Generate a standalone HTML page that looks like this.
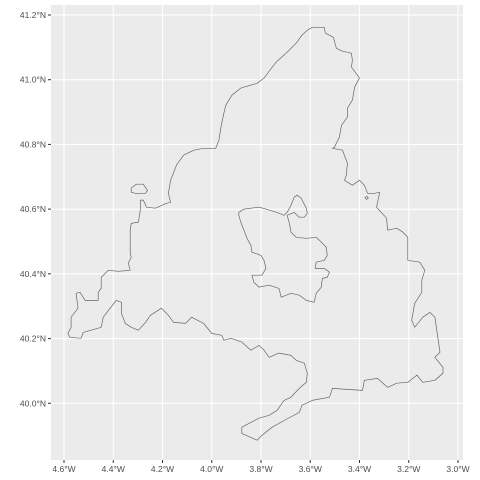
<!DOCTYPE html>
<html><head><meta charset="utf-8"><style>
html,body{margin:0;padding:0;background:#fff}
svg{display:block;font-family:"Liberation Sans",sans-serif}
</style></head><body>
<svg id="chart" width="480" height="480"></svg>
<script>
const xTicks=[-4.6,-4.4,-4.2,-4.0,-3.8,-3.6,-3.4,-3.2,-3.0];
const xTickLabels=["4.6°W","4.4°W","4.2°W","4.0°W","3.8°W","3.6°W","3.4°W","3.2°W","3.0°W"];
const yTicks=[40.0,40.2,40.4,40.6,40.8,41.0,41.2];
const yTickLabels=["40.0°N","40.2°N","40.4°N","40.6°N","40.8°N","41.0°N","41.2°N"];
const regionLon=[-3.592,-3.543,-3.539,-3.506,-3.494,-3.469,-3.433,-3.429,-3.433,-3.400,-3.420,-3.429,-3.449,-3.449,-3.473,-3.482,-3.502,-3.510,-3.469,-3.449,-3.453,-3.461,-3.429,-3.400,-3.380,-3.367,-3.339,-3.318,-3.331,-3.290,-3.286,-3.249,-3.224,-3.204,-3.204,-3.155,-3.135,-3.147,-3.147,-3.176,-3.188,-3.176,-3.143,-3.114,-3.094,-3.082,-3.073,-3.094,-3.061,-3.061,-3.094,-3.143,-3.167,-3.204,-3.249,-3.286,-3.327,-3.380,-3.388,-3.510,-3.522,-3.592,-3.633,-3.645,-3.706,-3.755,-3.796,-3.816,-3.878,-3.878,-3.841,-3.808,-3.767,-3.735,-3.706,-3.678,-3.645,-3.616,-3.612,-3.624,-3.657,-3.678,-3.727,-3.767,-3.788,-3.808,-3.841,-3.878,-3.922,-3.951,-3.959,-4.000,-4.033,-4.082,-4.106,-4.155,-4.176,-4.204,-4.249,-4.269,-4.298,-4.327,-4.351,-4.367,-4.367,-4.388,-4.441,-4.449,-4.522,-4.531,-4.576,-4.584,-4.571,-4.571,-4.543,-4.551,-4.535,-4.514,-4.461,-4.461,-4.449,-4.449,-4.420,-4.380,-4.331,-4.339,-4.327,-4.331,-4.331,-4.327,-4.298,-4.290,-4.290,-4.278,-4.265,-4.229,-4.184,-4.167,-4.176,-4.167,-4.143,-4.114,-4.073,-4.033,-3.984,-3.971,-3.963,-3.951,-3.943,-3.918,-3.882,-3.816,-3.788,-3.739,-3.694,-3.657,-3.633,-3.612];
const regionLat=[41.162,41.162,41.144,41.131,41.097,41.088,41.082,41.060,41.039,41.005,40.977,40.937,40.912,40.884,40.859,40.822,40.791,40.788,40.782,40.742,40.705,40.689,40.674,40.689,40.674,40.649,40.649,40.652,40.606,40.572,40.535,40.541,40.529,40.513,40.442,40.436,40.411,40.380,40.343,40.309,40.257,40.235,40.266,40.281,40.266,40.204,40.158,40.142,40.111,40.093,40.071,40.065,40.087,40.065,40.062,40.049,40.077,40.071,40.040,40.046,40.019,40.009,39.994,39.972,39.947,39.926,39.901,39.886,39.907,39.926,39.941,39.954,39.963,39.978,40.009,40.019,40.046,40.065,40.093,40.124,40.133,40.148,40.155,40.142,40.164,40.179,40.164,40.189,40.201,40.195,40.210,40.216,40.247,40.266,40.247,40.250,40.272,40.294,40.272,40.250,40.226,40.235,40.247,40.278,40.312,40.318,40.266,40.235,40.219,40.201,40.204,40.216,40.235,40.266,40.294,40.340,40.343,40.318,40.318,40.343,40.355,40.389,40.411,40.408,40.411,40.433,40.451,40.467,40.535,40.556,40.560,40.597,40.628,40.628,40.606,40.603,40.618,40.621,40.649,40.689,40.736,40.767,40.782,40.788,40.788,40.813,40.853,40.896,40.921,40.952,40.974,40.989,41.005,41.054,41.085,41.113,41.138,41.153];
const cityLon=[-3.890,-3.869,-3.808,-3.780,-3.735,-3.706,-3.694,-3.678,-3.665,-3.653,-3.637,-3.616,-3.612,-3.624,-3.645,-3.665,-3.694,-3.686,-3.678,-3.657,-3.616,-3.576,-3.563,-3.535,-3.531,-3.543,-3.576,-3.580,-3.543,-3.522,-3.531,-3.551,-3.555,-3.576,-3.584,-3.616,-3.645,-3.678,-3.718,-3.727,-3.767,-3.808,-3.829,-3.837,-3.796,-3.780,-3.788,-3.800,-3.837,-3.841,-3.857,-3.869,-3.882,-3.890];
const cityLat=[40.590,40.600,40.606,40.600,40.590,40.581,40.590,40.612,40.637,40.643,40.634,40.603,40.587,40.575,40.575,40.590,40.581,40.560,40.529,40.513,40.510,40.513,40.504,40.482,40.457,40.442,40.436,40.417,40.417,40.405,40.389,40.386,40.359,40.340,40.312,40.318,40.334,40.340,40.328,40.355,40.365,40.359,40.374,40.396,40.396,40.417,40.442,40.457,40.467,40.488,40.510,40.535,40.560,40.581];
const lakeLon=[-4.327,-4.306,-4.278,-4.261,-4.269,-4.310,-4.327];
const lakeLat=[40.665,40.677,40.677,40.658,40.649,40.649,40.652];
const isleLon=[-3.378,-3.370,-3.364,-3.372];
const isleLat=[40.636,40.640,40.634,40.630];

const L=51,R=463,T=5,B=460;
const xS=v=>64+(v+4.6)*246.25;
const yS=v=>403.3-(v-40)*323.6;
const NS="http://www.w3.org/2000/svg";
const svg=document.getElementById('chart');
function mk(t,a){const e=document.createElementNS(NS,t);for(const k in a)e.setAttribute(k,a[k]);return e;}

const bg=mk('rect',{x:L,y:T,width:R-L,height:B-T,fill:'#ebebeb'});


svg.appendChild(bg);

xTicks.forEach((v,i)=>{
  const x=xS(v);
  const g=mk('line',{x1:x,x2:x,y1:T,y2:B,stroke:'#fff','stroke-width':1.1});
  
  
  svg.appendChild(g);
  const tk=mk('line',{x1:x,x2:x,y1:B,y2:B+3,stroke:'#333','stroke-width':1});
  
  
  svg.appendChild(tk);
  const t=mk('text',{x:x,y:B+12,'font-size':8.5,fill:'#4d4d4d','text-anchor':'middle'});
  t.textContent=xTickLabels[i];
  
  
  svg.appendChild(t);
});
yTicks.forEach((v,i)=>{
  const y=yS(v);
  const g=mk('line',{x1:L,x2:R,y1:y,y2:y,stroke:'#fff','stroke-width':1.1});
  
  
  svg.appendChild(g);
  const tk=mk('line',{x1:L-3,x2:L,y1:y,y2:y,stroke:'#333','stroke-width':1});
  
  
  svg.appendChild(tk);
  const t=mk('text',{x:L-5,y:y+3,'font-size':8.5,fill:'#4d4d4d','text-anchor':'end'});
  t.textContent=yTickLabels[i];
  
  
  svg.appendChild(t);
});

function poly(lons,lats,name){
  const pts=lons.map((v,i)=>xS(v).toFixed(1)+','+yS(lats[i]).toFixed(1)).join(' ');
  const p=mk('polygon',{points:pts,fill:'none',stroke:'#666','stroke-width':0.7,'stroke-linejoin':'round'});
  
  
  svg.appendChild(p);
}
poly(regionLon,regionLat,'region-outline');
poly(cityLon,cityLat,'city-outline');
poly(lakeLon,lakeLat,'lake-outline');
poly(isleLon,isleLat,'islet-outline');
</script>
</body></html>
